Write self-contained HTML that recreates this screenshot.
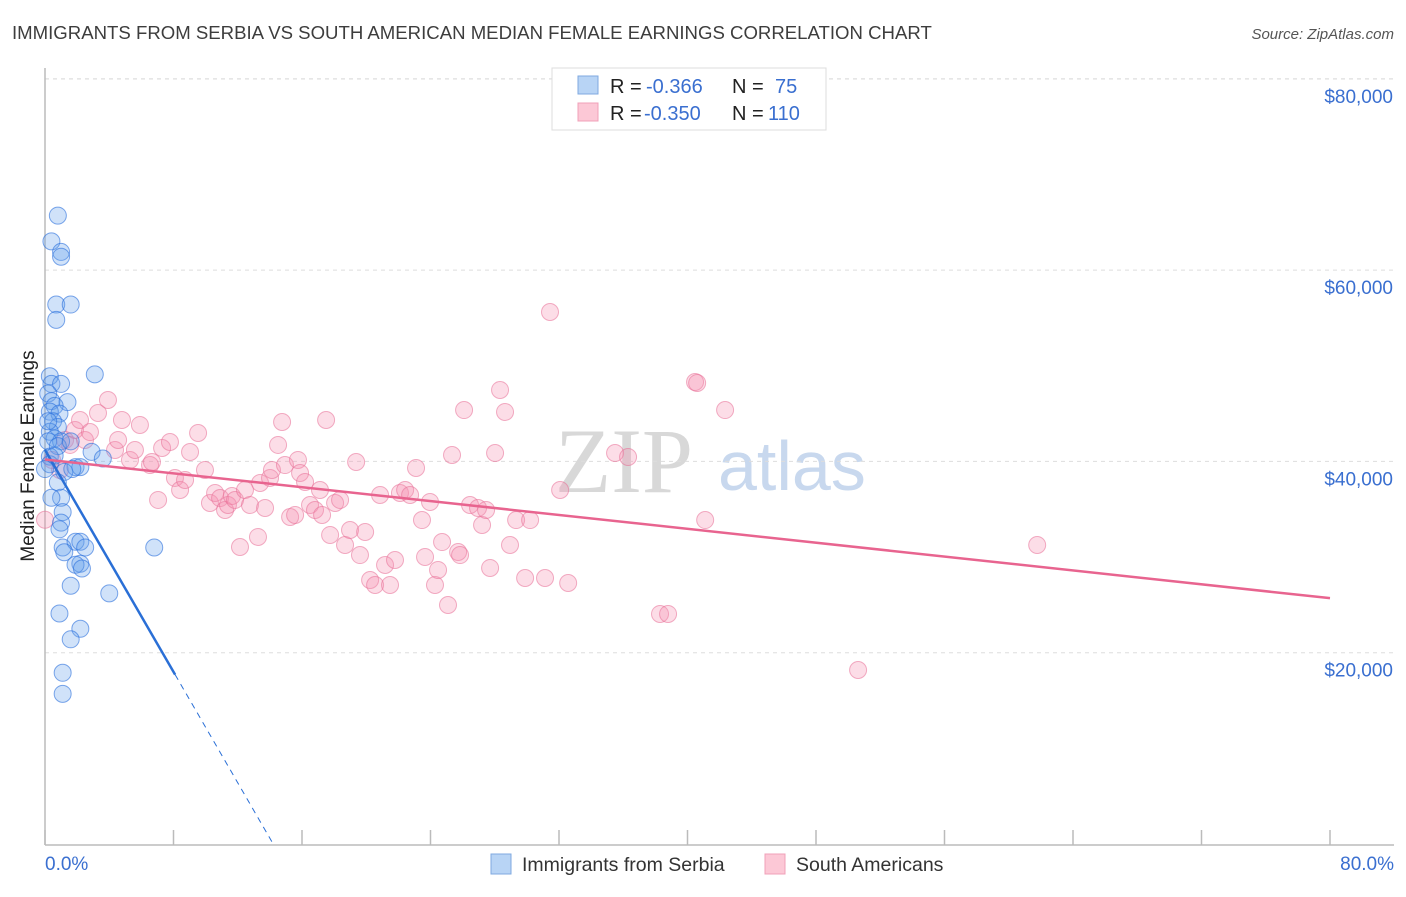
<!DOCTYPE html>
<html><head><meta charset="utf-8"><style>
body{margin:0;background:#fff;font-family:"Liberation Sans",sans-serif}
</style></head><body>
<svg id="chart" width="1406" height="892" xmlns="http://www.w3.org/2000/svg" style="font-family:'Liberation Sans',sans-serif">
<text x="12" y="39" font-size="18.6" fill="#3d3d3d">IMMIGRANTS FROM SERBIA VS SOUTH AMERICAN MEDIAN FEMALE EARNINGS CORRELATION CHART</text>
<text x="1394" y="39" font-size="15" fill="#555" font-style="italic" text-anchor="end">Source: ZipAtlas.com</text>
<text x="34" y="456" font-size="19" fill="#222" text-anchor="middle" transform="rotate(-90 34 456)">Median Female Earnings</text>
<text x="555" y="492" font-size="92" fill="#d8d8d8" font-family="Liberation Serif">ZIP</text>
<text x="718" y="490" font-size="70" fill="#c8d8ee">atlas</text>
<g id="grid"></g><g id="axes"></g><g id="pts"></g><g id="lines"></g>
<g>
<rect x="552" y="68" width="274" height="62" fill="#fff" stroke="#ddd"/>
<rect x="578" y="76" width="20" height="18" fill="#b8d4f5" stroke="#7fa9e0"/>
<rect x="578" y="103" width="20" height="18" fill="#fcc8d6" stroke="#f0a0b8"/>
<text x="610" y="93" font-size="20" fill="#222">R =</text>
<text x="646" y="93" font-size="20" fill="#3a6fd0">-0.366</text>
<text x="732" y="93" font-size="20" fill="#222">N =</text>
<text x="775" y="93" font-size="20" fill="#3a6fd0">75</text>
<text x="610" y="120" font-size="20" fill="#222">R =</text>
<text x="644" y="120" font-size="20" fill="#3a6fd0">-0.350</text>
<text x="732" y="120" font-size="20" fill="#222">N =</text>
<text x="768" y="120" font-size="20" fill="#3a6fd0">110</text>
</g>
<g>
<rect x="491" y="854" width="20" height="20" fill="#b8d4f5" stroke="#7fa9e0"/>
<text x="522" y="871" font-size="19.5" fill="#333">Immigrants from Serbia</text>
<rect x="765" y="854" width="20" height="20" fill="#fcc8d6" stroke="#f0a0b8"/>
<text x="796" y="871" font-size="19.5" fill="#333">South Americans</text>
</g>
</svg>
<script>
const yTicks=[20000,40000,60000,80000];
const yTickLabels=["$20,000","$40,000","$60,000","$80,000"];
const xTicks=[0,8,16,24,32,40,48,56,64,72,80];
const xEndLabels=["0.0%","80.0%"];
const serbiaX=[0.8,0.4,1.0,1.0,0.7,1.6,0.7,3.1,0.3,0.4,1.0,0.2,0.4,1.4,0.6,0.3,0.9,0.5,0.8,0.3,0.6,1.0,0.2,0.8,0.3,1.6,2.9,3.6,1.9,0.3,2.2,1.2,0.8,1.0,0.4,1.1,1.0,0.9,1.1,1.9,2.2,1.2,2.5,2.2,1.9,2.3,6.8,1.6,4.0,0.9,2.2,1.6,1.1,1.1,0.2,0.6,0.0,1.7];
const serbiaY=[65700,63000,61900,61400,56400,56400,54800,49100,48900,48100,48100,47100,46300,46200,45800,45200,45000,44200,43600,43100,42400,42100,42100,41600,40500,42100,41000,40300,39400,39700,39400,38900,37800,36200,36200,34700,33600,32900,31000,31600,31600,30500,31000,29300,29200,28800,31000,27000,26200,24100,22500,21400,17900,15700,44200,40600,39200,39200];
const saX=[0,0.44,0.93,1.25,1.56,1.87,2.18,2.49,2.80,3.30,3.92,4.36,4.55,4.79,5.29,5.60,5.91,6.54,6.66,7.04,7.29,7.78,8.09,8.41,8.72,9.03,9.53,9.96,10.27,10.59,10.90,11.21,11.39,11.64,11.83,12.14,12.45,12.76,13.26,13.39,13.70,14.01,14.13,14.51,14.76,14.94,15.26,15.57,15.75,15.88,16.19,16.50,16.81,17.12,17.25,17.50,17.75,18.06,18.37,18.68,18.99,19.37,19.61,19.93,20.24,20.55,20.86,21.17,21.48,21.79,22.10,22.42,22.73,23.10,23.47,23.66,23.97,24.28,24.47,24.72,25.09,25.34,25.72,25.84,26.09,26.46,26.96,27.21,27.46,27.71,28.02,28.33,28.64,28.95,29.33,29.89,30.20,31.13,31.44,32.07,32.57,35.49,36.30,38.29,38.79,40.47,40.60,41.10,42.34,50.62,61.77];
const saY=[33900,40150,39100,42240,41720,43280,44330,42240,43070,45060,46420,41190,42240,44330,40150,41190,43810,39620,39940,35970,41400,42030,38270,37010,38060,40980,42970,39100,35650,36700,36170,34920,35440,36380,35970,31050,37010,35440,32100,37740,35130,38270,39100,41720,44120,39620,34190,34400,40150,38790,37850,35440,34920,37010,34400,44330,32310,35650,35970,31260,32830,39940,30210,32620,27600,27080,36490,29170,27080,29690,36700,37010,36490,39310,33870,30010,35760,27080,28650,31570,24990,40670,30530,30210,45370,35440,35130,33350,34920,28860,40880,47470,45170,31260,33870,27810,33870,27810,55620,37010,27290,40880,40460,24050,24050,48300,48200,33870,45370,18190,31260];
const serbiaTrend={y0:41200,slope:-2900,solidEnd:8.1};
const saTrend={y0:40200,y80:25700};
const X=v=>45+v/80*1285, Y=v=>844-v/20000*191.3;
const NS="http://www.w3.org/2000/svg";
function mk(tag,attrs,parent){const e=document.createElementNS(NS,tag);for(const k in attrs)e.setAttribute(k,attrs[k]);document.getElementById(parent).appendChild(e);return e;}
yTicks.forEach((t,i)=>{
 const g=mk('line',{x1:45,x2:1394,y1:Y(t),y2:Y(t),stroke:'#ddd','stroke-dasharray':'4,4'},'grid');
 
 
 const l=mk('text',{x:1393,y:Y(t)+24,'font-size':19,fill:'#3a6fd0','text-anchor':'end'},'grid');
 l.textContent=yTickLabels[i];
 
 
});
const topLine=mk('line',{x1:45,x2:1394,y1:79,y2:79,stroke:'#ddd','stroke-dasharray':'4,4'},'grid');


const ya=mk('line',{x1:45,x2:45,y1:68,y2:845,stroke:'#bbb','stroke-width':1.5},'axes');


const xa=mk('line',{x1:45,x2:1394,y1:845,y2:845,stroke:'#bbb','stroke-width':1.5},'axes');


xTicks.forEach(t=>{
 const tk=mk('line',{x1:X(t),x2:X(t),y1:830,y2:845,stroke:'#bbb','stroke-width':1.5},'axes');
 
 
});
[[0,'start',45],[80,'end',1394]].forEach((d,i)=>{
 const l=mk('text',{x:d[2],y:870,'font-size':19,fill:'#3a6fd0','text-anchor':d[1]},'axes');
 l.textContent=xEndLabels[i];
 
 
});
saX.forEach((x,i)=>{
 const c=mk('circle',{cx:X(x),cy:Y(saY[i]),r:8.5,fill:'rgba(244,143,177,0.3)',stroke:'rgba(232,110,150,0.55)','stroke-width':1},'pts');
 
 
});
serbiaX.forEach((x,i)=>{
 const c=mk('circle',{cx:X(x),cy:Y(serbiaY[i]),r:8.5,fill:'rgba(100,160,235,0.3)',stroke:'rgba(40,110,220,0.6)','stroke-width':1},'pts');
 
 
});
const bz=-serbiaTrend.y0/serbiaTrend.slope;
const b1=mk('line',{x1:X(0),y1:Y(serbiaTrend.y0),x2:X(serbiaTrend.solidEnd),y2:Y(serbiaTrend.y0+serbiaTrend.slope*serbiaTrend.solidEnd),stroke:'#2a6fd6','stroke-width':2.5},'lines');


const b2=mk('line',{x1:X(serbiaTrend.solidEnd),y1:Y(serbiaTrend.y0+serbiaTrend.slope*serbiaTrend.solidEnd),x2:X(bz),y2:Y(0),stroke:'#2a6fd6','stroke-width':1,'stroke-dasharray':'6,5'},'lines');


const p1=mk('line',{x1:X(0),y1:Y(saTrend.y0),x2:X(80),y2:Y(saTrend.y80),stroke:'#e8648f','stroke-width':2.5},'lines');


</script>
</body></html>
